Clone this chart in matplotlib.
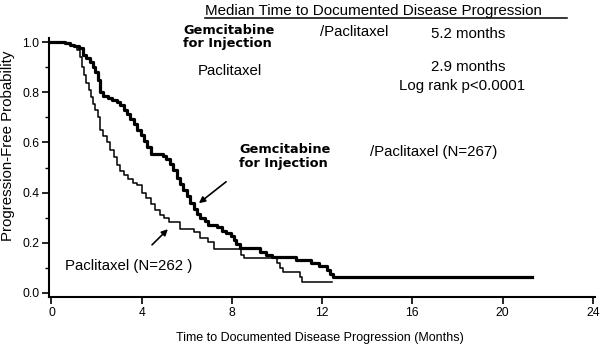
import matplotlib
matplotlib.use("Agg")
import matplotlib.pyplot as plt
from matplotlib.ticker import MultipleLocator

plt.rcParams['font.family'] = ['Liberation Sans', 'DejaVu Sans']

# Gemcitabine for Injection / Paclitaxel (thick curve)
gem_t = [0, 0.6, 0.8, 1.0, 1.2, 1.4, 1.55, 1.7, 1.85, 1.95, 2.05, 2.15, 2.3, 2.5, 2.7,
         2.9, 3.05, 3.2, 3.35, 3.5, 3.65, 3.8, 3.95, 4.1, 4.25, 4.4, 4.95, 5.1, 5.25,
         5.4, 5.55, 5.7, 5.85, 6.0, 6.15, 6.3, 6.45, 6.6, 6.8, 6.95, 7.35, 7.55, 7.75,
         7.95, 8.1, 8.2, 8.35, 9.25, 9.5, 9.8, 10.85, 11.5, 11.85, 12.2, 12.35, 12.5, 21.3]
gem_s = [1.0, 0.995, 0.99, 0.985, 0.975, 0.95, 0.935, 0.92, 0.9, 0.88, 0.85, 0.80, 0.785,
         0.778, 0.77, 0.76, 0.748, 0.73, 0.715, 0.695, 0.672, 0.65, 0.628, 0.605, 0.583,
         0.552, 0.545, 0.533, 0.515, 0.49, 0.46, 0.435, 0.41, 0.385, 0.36, 0.335, 0.315,
         0.30, 0.285, 0.27, 0.262, 0.248, 0.238, 0.228, 0.21, 0.195, 0.178, 0.165, 0.152,
         0.142, 0.131, 0.12, 0.106, 0.092, 0.075, 0.065, 0.065]

# Paclitaxel (thin curve)
pac_t = [0, 0.6, 0.8, 1.0, 1.15, 1.25, 1.35, 1.45, 1.55, 1.65, 1.75, 1.85, 1.95, 2.05,
         2.15, 2.3, 2.45, 2.6, 2.75, 2.9, 3.05, 3.2, 3.4, 3.6, 3.8, 4.0, 4.2, 4.4, 4.6,
         4.8, 5.0, 5.2, 5.7, 6.3, 6.6, 6.95, 7.2, 8.4, 8.55, 10.0, 10.15, 10.25, 11.0,
         11.1, 12.43]
pac_s = [1.0, 0.995, 0.99, 0.985, 0.97, 0.94, 0.90, 0.87, 0.835, 0.81, 0.78, 0.755, 0.73,
         0.70, 0.65, 0.625, 0.60, 0.57, 0.54, 0.51, 0.485, 0.47, 0.455, 0.44, 0.43, 0.40,
         0.38, 0.355, 0.33, 0.31, 0.30, 0.282, 0.255, 0.244, 0.218, 0.204, 0.174, 0.151,
         0.138, 0.12, 0.10, 0.085, 0.065, 0.045, 0.045]

x_ticks = [0, 4, 8, 12, 16, 20, 24]
y_ticks = [0.0, 0.2, 0.4, 0.6, 0.8, 1.0]

W, H = 614, 348
fig = plt.figure(figsize=(W / 100, H / 100), dpi=100)
ax = fig.add_axes([49 / W, 1 - 297 / H, 546 / W, 259 / H])

ax.plot(gem_t, gem_s, drawstyle='steps-post', color='black', lw=2.3)
ax.plot(pac_t, pac_s, drawstyle='steps-post', color='black', lw=1.1)

ax.set_xlim(-0.11, 24.1)
ax.set_ylim(-0.016, 1.016)
ax.set_xticks(x_ticks)
ax.set_yticks(y_ticks)
ax.set_yticklabels([f'{v:.1f}' for v in y_ticks])
ax.yaxis.set_minor_locator(MultipleLocator(0.1))
for side in ['top', 'right']:
    ax.spines[side].set_visible(False)
for side in ['left', 'bottom']:
    ax.spines[side].set_linewidth(1.5)
ax.tick_params(which='major', length=5, width=1.2, labelsize=8.7, pad=2)
ax.tick_params(which='minor', length=3, width=1.0)
ax.set_xlabel('Time to Documented Disease Progression (Months)', fontsize=9.0)
ax.set_ylabel('Progression-Free Probability', fontsize=10.8)
ax.xaxis.set_label_coords((320 - 49) / 546, (297 - 332) / 259)
ax.yaxis.set_label_coords((15 - 49) / 546, (297 - 146) / 259)

def px(x, y):
    return x / W, 1 - y / H

bold = dict(family=['DejaVu Sans'], fontweight='bold', fontsize=9.3)
fig.text(*px(205, 11), 'Median Time to Documented Disease Progression', fontsize=10.9, va='center')
fig.add_artist(plt.Line2D([205 / W, 567 / W], [1 - 18 / H, 1 - 18 / H], color='black', lw=1.1))
fig.text(*px(183, 37), 'Gemcitabine\nfor Injection', va='center', linespacing=1.1, **bold)
fig.text(*px(320, 32), '/Paclitaxel', fontsize=10.8, va='center')
fig.text(*px(431, 34), '5.2 months', fontsize=10.8, va='center')
fig.text(*px(198, 71), 'Paclitaxel', fontsize=10.8, va='center')
fig.text(*px(431, 67), '2.9 months', fontsize=10.8, va='center')
fig.text(*px(399, 86), 'Log rank p<0.0001', fontsize=10.8, va='center')
fig.text(*px(239, 157), 'Gemcitabine\nfor Injection', va='center', linespacing=1.1, **bold)
fig.text(*px(370, 152), '/Paclitaxel (N=267)', fontsize=10.8, va='center')
fig.text(*px(65, 266), 'Paclitaxel (N=262 )', fontsize=10.8, va='center')

arrow = dict(arrowstyle='-|>', color='black', lw=1.2, mutation_scale=9)
ax.annotate('', xy=(6.44, 0.351), xytext=(7.84, 0.45), arrowprops=arrow)
ax.annotate('', xy=(5.25, 0.262), xytext=(4.37, 0.184), arrowprops=arrow)

fig.savefig('out.png', dpi=100)
